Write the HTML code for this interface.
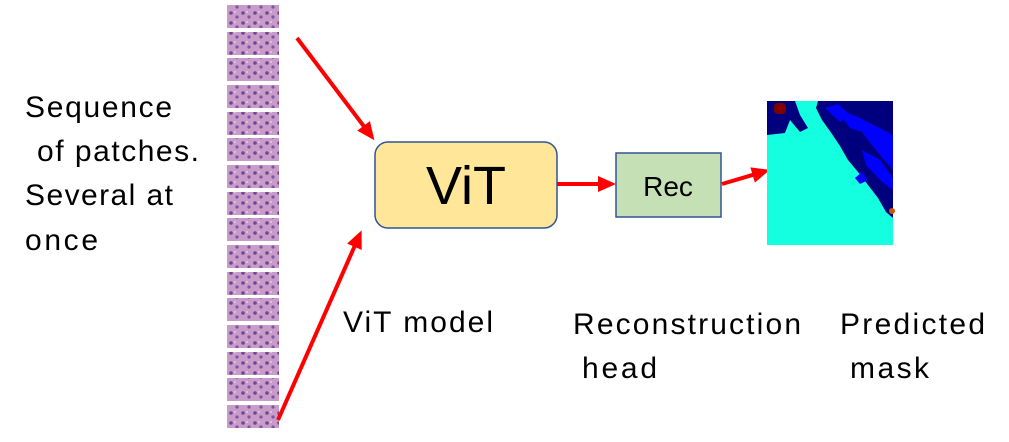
<!DOCTYPE html>
<html><head><meta charset="utf-8"><style>
body{margin:0;background:#fff;}
svg text{font-family:"Liberation Sans",sans-serif;fill:#000;}
</style></head><body>
<svg width="1009" height="437" viewBox="0 0 1009 437" xmlns="http://www.w3.org/2000/svg">
<defs>
<pattern id="tis" width="12" height="10" patternUnits="userSpaceOnUse">
<rect width="12" height="10" fill="#c99bc8"/>
<circle cx="3" cy="3" r="1.8" fill="#6a4a96"/>
<circle cx="9" cy="7" r="1.6" fill="#7b56a3"/>
<circle cx="7" cy="2" r="1" fill="#e8c8e4"/>
</pattern>
<marker id="ah2" markerWidth="18" markerHeight="16" refX="14" refY="8" orient="auto" markerUnits="userSpaceOnUse">
<path d="M0,0 L18,8 L0,16 z" fill="#f00"/>
</marker>
</defs>
<g fill="url(#tis)">
<rect x="227" y="5" width="52" height="23"/>
<rect x="227" y="32" width="52" height="23"/>
<rect x="227" y="58" width="52" height="23"/>
<rect x="227" y="85" width="52" height="23"/>
<rect x="227" y="112" width="52" height="23"/>
<rect x="227" y="138" width="52" height="23"/>
<rect x="227" y="165" width="52" height="23"/>
<rect x="227" y="192" width="52" height="23"/>
<rect x="227" y="218" width="52" height="23"/>
<rect x="227" y="245" width="52" height="23"/>
<rect x="227" y="272" width="52" height="23"/>
<rect x="227" y="298" width="52" height="23"/>
<rect x="227" y="325" width="52" height="23"/>
<rect x="227" y="352" width="52" height="23"/>
<rect x="227" y="378" width="52" height="23"/>
<rect x="227" y="405" width="52" height="23"/>
</g>
<text x="25" y="117" font-size="30" textLength="147">Sequence</text>
<text x="37" y="161" font-size="30" textLength="162">of patches.</text>
<text x="25" y="205" font-size="30" textLength="148">Several at</text>
<text x="25" y="250" font-size="30" textLength="73">once</text>
<rect x="375" y="142" width="182" height="86" rx="13" fill="#ffe699" stroke="#2f5597" stroke-width="1.5"/>
<text x="466" y="204" font-size="54" text-anchor="middle">ViT</text>
<rect x="616" y="153" width="105" height="64" fill="#c5e0b4" stroke="#2f5597" stroke-width="1.5"/>
<text x="668" y="196" font-size="28" text-anchor="middle">Rec</text>
<g stroke="#f00" stroke-width="4" fill="none">
<line x1="297" y1="38" x2="372" y2="137" marker-end="url(#ah2)"/>
<line x1="278" y1="420" x2="360" y2="234" marker-end="url(#ah2)"/>
<line x1="557" y1="184" x2="612" y2="184" marker-end="url(#ah2)"/>
<line x1="722" y1="184" x2="766" y2="171" marker-end="url(#ah2)"/>
</g>
<rect x="767" y="101" width="126" height="144" fill="#14ffe0"/>
<path d="M767,101 L795,101 L800,115 L808,128 L800,132 L790,120 L785,133 L767,135 Z" fill="#00007f"/>
<path d="M818,101 L893,101 L893,218 L886,212 L878,198 L868,185 L858,172 L848,160 L840,146 L832,134 L822,120 L816,108 Z" fill="#00007f"/>
<path d="M835,108 L860,118 L893,135 L893,170 L884,160 L876,150 L868,140 L862,132 L850,128 Z" fill="#0000ff"/>
<path d="M862,150 L880,160 L893,178 L893,190 L882,182 L866,165 Z" fill="#0000ff"/>
<path d="M855,178 L862,172 L868,180 L860,184 Z" fill="#0000ff"/>
<path d="M825,108 L838,104 L850,115 L840,122 Z" fill="#0000ff"/>
<rect x="774" y="103" width="12" height="11" rx="4" fill="#7f0000"/>
<circle cx="892" cy="211" r="3" fill="#cc5500"/>
<text x="343" y="332" font-size="30" textLength="150">ViT model</text>
<text x="573" y="334" font-size="30" textLength="228">Reconstruction</text>
<text x="582" y="378" font-size="30" textLength="75">head</text>
<text x="840" y="334" font-size="30" textLength="145">Predicted</text>
<text x="850" y="378" font-size="30" textLength="79">mask</text>
</svg>
</body></html>
